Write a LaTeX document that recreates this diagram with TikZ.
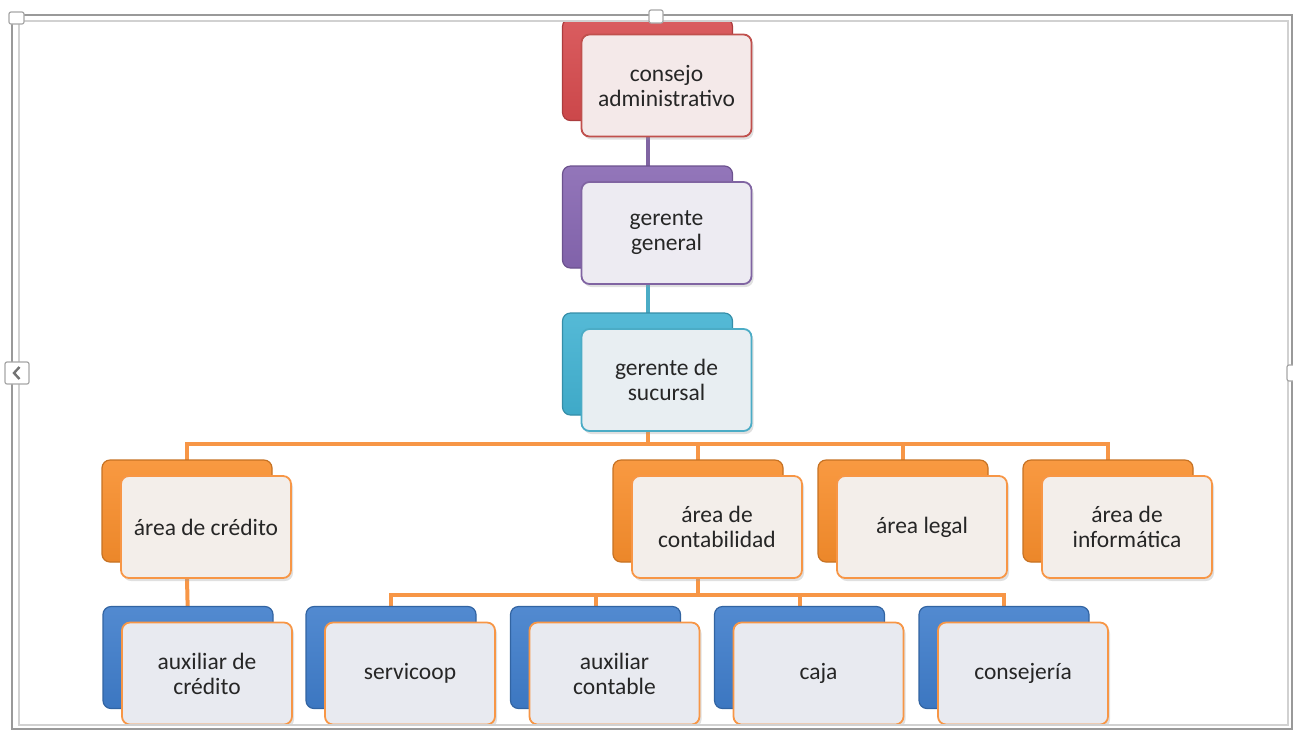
\documentclass[tikz,border=0pt]{standalone}
\usepackage{fontspec}
\setmainfont{Carlito}
\usetikzlibrary{shadows,backgrounds}
\definecolor{redln}{HTML}{C0504D}
\definecolor{redbk}{HTML}{D64B4E}
\definecolor{redfr}{HTML}{F4E9E9}
\definecolor{purln}{HTML}{8064A2}
\definecolor{purbk}{HTML}{8767B2}
\definecolor{purfr}{HTML}{EDEBF2}
\definecolor{cyaln}{HTML}{4BACC6}
\definecolor{cyabk}{HTML}{42B2D2}
\definecolor{cyafr}{HTML}{E8EEF2}
\definecolor{oraln}{HTML}{F79646}
\definecolor{orabk}{HTML}{F88E2C}
\definecolor{orafr}{HTML}{F3EEEA}
\definecolor{blubk}{HTML}{3F7DCB}
\definecolor{blufr}{HTML}{E8EAF0}
\tikzset{
  org/.style ={x=0.5pt, y=-0.5pt},
  box/.style ={draw, line width=0.9pt, rounded corners=4pt, minimum width=85pt, minimum height=51pt,
               inner sep=0pt, align=center, text=black!85, font=\fontsize{11.75}{12.5}\selectfont,
               drop shadow={shadow xshift=1pt, shadow yshift=-1.5pt, opacity=.3, fill=black!40}},
  bk/.style  ={copy shadow={shadow xshift=-9.5pt, shadow yshift=8pt, line width=0.6pt,
               draw=#1!80!black, top color=#1!90!white, bottom color=#1!95!black}},
  rd/.style  ={box, bk=redbk, draw=redln, fill=redfr},
  pu/.style  ={box, bk=purbk, draw=purln, fill=purfr},
  cy/.style  ={box, bk=cyabk, draw=cyaln, fill=cyafr},
  og/.style  ={box, bk=orabk, draw=oraln, fill=orafr},
  bl/.style  ={box, bk=blubk, draw=oraln, fill=blufr},
  lk/.style  ={line width=2pt, draw=#1},
  lk/.default=oraln,
  frm/.style ={line width=0.8pt},
  hdl/.style ={draw=black!35, fill=white, line width=0.6pt, rounded corners=1pt}
}

\begin{document}
\begin{tikzpicture}[org]
\useasboundingbox (0,0) rectangle (1293,730);
\begin{scope}
  \clip (19,21) rectangle (1288,725);
  % top chain
  \node[rd] (consejo) at (666.5,85.5) {consejo\\administrativo};
  \node[pu] (gergen)  at (666.5,233)  {gerente\\general};
  \node[cy] (gersuc)  at (666.5,380)  {gerente de\\sucursal};
  % areas
  \node[og] (acred)  at (206,527)  {área de crédito};
  \node[og] (acont)  at (717,527)  {área de\\contabilidad};
  \node[og] (alegal) at (922,527)  {área legal};
  \node[og] (ainfo)  at (1127,527) {área de\\informática};
  % auxiliares
  \node[bl] (auxcred) at (207,673.5)   {auxiliar de\\crédito};
  \node[bl] (servi)   at (410,673.5)   {servicoop};
  \node[bl] (auxcont) at (614.5,673.5) {auxiliar\\contable};
  \node[bl] (caja)    at (818.5,673.5) {caja};
  \node[bl] (conse)   at (1023,673.5)  {consejería};
\end{scope}
% connectors, behind the boxes
\begin{scope}[on background layer]
  \draw[lk=purln] ([xshift=-9.5pt]consejo.south) -- ([xshift=-9.5pt]gergen.north);
  \draw[lk=cyaln] ([xshift=-9.5pt]gergen.south) -- ([xshift=-9.5pt]gersuc.north);
  \foreach \a in {acred,acont,alegal,ainfo}
    \draw[lk] ([xshift=-9.5pt]gersuc.south) -- ++(0,12) -| ([xshift=-9.5pt]\a.north);
  \draw[lk] ([xshift=-9.5pt]acred.south) -- ([xshift=-9.5pt]auxcred.north);
  \foreach \a in {servi,auxcont,caja,conse}
    \draw[lk] ([xshift=-9.5pt]acont.south) -- ++(0,16) -| ([xshift=-9.5pt]\a.north);
\end{scope}
% frame and handles
\draw[frm, black!40] (12,15) rectangle (1292,729);
\draw[frm, black!18] (19,21) rectangle (1288,725);
\draw[hdl] (9,12) rectangle (24,24);
\draw[hdl] (649,10) rectangle (663,23);
\draw[hdl] (5,362) rectangle (29,384);
\draw[black!55, line width=1.2pt] (19.5,367) -- (14,373) -- (19.5,379);
\draw[hdl] (1287,365) rectangle (1299,381);
\end{tikzpicture}
\end{document}
